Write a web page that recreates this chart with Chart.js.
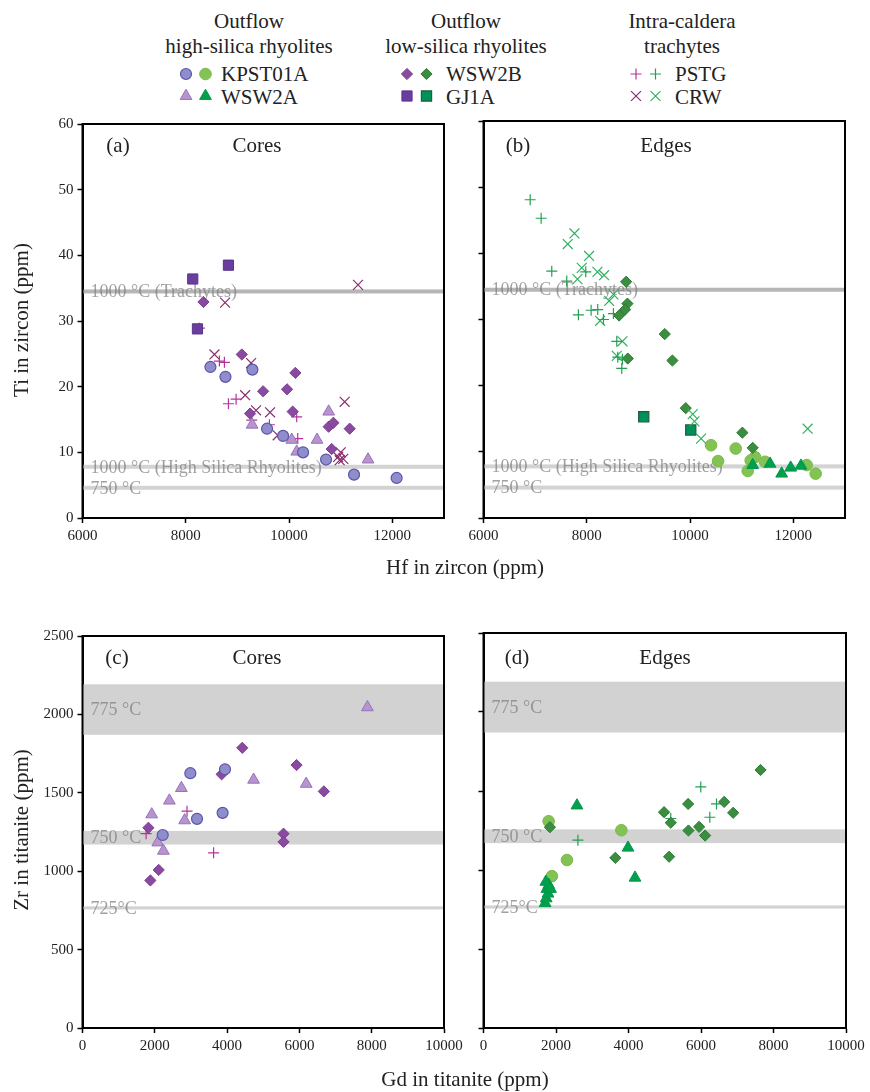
<!DOCTYPE html>
<html>
<head>
<meta charset="utf-8">
<script src="https://cdn.jsdelivr.net/npm/chart.js@4.4.0/dist/chart.umd.min.js"></script>
<style>
  body { margin: 0; width: 870px; height: 1092px; background: #fff; position: relative; overflow: hidden;
         font-family: "Liberation Serif", "Times New Roman", serif; color: #222; }
  canvas { position: absolute; }
  .t { position: absolute; white-space: nowrap; transform: translate(-50%, -50%); line-height: 1; }
  .l { position: absolute; white-space: nowrap; transform: translateY(-50%); line-height: 1; font-size: 21px; }
</style>
</head>
<body>

<div class="t" style="left:249px;top:21px;font-size:21px">Outflow</div>
<div class="t" style="left:249px;top:46px;font-size:21px">high-silica rhyolites</div>
<div class="t" style="left:466px;top:21px;font-size:21px">Outflow</div>
<div class="t" style="left:466px;top:46px;font-size:21px">low-silica rhyolites</div>
<div class="t" style="left:682px;top:21px;font-size:21px">Intra-caldera</div>
<div class="t" style="left:682px;top:46px;font-size:21px">trachytes</div>
<div class="l" style="left:221px;top:74px">KPST01A</div>
<div class="l" style="left:221px;top:97px">WSW2A</div>
<div class="l" style="left:446px;top:74px">WSW2B</div>
<div class="l" style="left:446px;top:97px">GJ1A</div>
<div class="l" style="left:675px;top:74px">PSTG</div>
<div class="l" style="left:675px;top:97px">CRW</div>

<canvas id="legend" width="870" height="110" style="left:0;top:0"></canvas>
<canvas id="zirconCores" width="455" height="445" style="left:0;top:111px"></canvas>
<canvas id="zirconEdges" width="400" height="445" style="left:455px;top:111px"></canvas>
<canvas id="titaniteCores" width="475" height="445" style="left:0;top:623px"></canvas>
<canvas id="titaniteEdges" width="415" height="445" style="left:455px;top:623px"></canvas>

<div class="t" style="left:118px;top:145px;font-size:21px">(a)</div>
<div class="t" style="left:257px;top:145px;font-size:21px">Cores</div>
<div class="t" style="left:518px;top:145px;font-size:21px">(b)</div>
<div class="t" style="left:666px;top:145px;font-size:21px">Edges</div>
<div class="t" style="left:117px;top:657px;font-size:21px">(c)</div>
<div class="t" style="left:257px;top:657px;font-size:21px">Cores</div>
<div class="t" style="left:517px;top:657px;font-size:21px">(d)</div>
<div class="t" style="left:665px;top:657px;font-size:21px">Edges</div>

<div class="t" style="left:21px;top:320px;font-size:21px;transform:translate(-50%,-50%) rotate(-90deg)">Ti in zircon (ppm)</div>
<div class="t" style="left:21px;top:830px;font-size:21px;transform:translate(-50%,-50%) rotate(-90deg)">Zr in titanite (ppm)</div>
<div class="t" style="left:465px;top:567px;font-size:21px">Hf in zircon (ppm)</div>
<div class="t" style="left:465px;top:1079px;font-size:21px">Gd in titanite (ppm)</div>

<script>
// tick values
const HF_TICKS = [6000, 8000, 10000, 12000];
const TI_TICKS = [0, 10, 20, 30, 40, 50, 60];
const GD_TICKS = [0, 2000, 4000, 6000, 8000, 10000];
const ZR_TICKS = [0, 500, 1000, 1500, 2000, 2500];

// Ti-in-zircon reference temperatures
const TI_REF_VALUES = [34.5, 7.8, 4.6];
const TI_REF_LABELS = ['1000 °C (Trachytes)', '1000 °C (High Silica Rhyolites)', '750 °C'];

// Zr-in-titanite reference bands (low, high)
const ZR_BAND_LOW = [1870, 1170, 756];
const ZR_BAND_HIGH = [2192, 1257, 776];
const ZR_BAND_LABELS = ['775 °C', '750 °C', '725°C'];

// zircon cores: [Hf, Ti]
const zcKPST01A = [[8477, 23.0], [8768, 21.5], [9290, 22.6], [9574, 13.6], [9884, 12.5], [10271, 10.0], [10716, 8.9], [11258, 6.6], [12083, 6.1]];
const zcWSW2A = [[9284, 14.2], [10052, 11.9], [10148, 10.1], [10542, 11.9], [10767, 16.2], [11529, 8.9]];
const zcWSW2B = [[8342, 32.9], [9084, 24.9], [10122, 22.1], [9497, 19.3], [9961, 19.6], [9245, 15.9], [10070, 16.2], [10767, 13.9], [10858, 14.5], [11174, 13.6], [10825, 10.5]];
const zcGJ1A = [[8135, 36.4], [8826, 38.5], [8226, 28.8]];
const zcPSTG = [[8264, 28.9], [8651, 23.9], [8748, 23.7], [8826, 17.4], [8974, 18.1], [9277, 14.9], [9619, 14.2], [10148, 15.4], [10168, 12.1]];
const zcCRW = [[11335, 35.5], [8761, 32.8], [8555, 24.9], [9265, 23.6], [9149, 18.7], [9361, 16.4], [9632, 16.1], [9780, 12.6], [11077, 17.7], [10950, 9.3], [11000, 10.0], [11050, 9.0], [10980, 8.8]];

// zircon edges: [Hf, Ti]
const zeKPST01A = [[10406, 11.0], [10884, 10.5], [10542, 8.6], [11258, 9.2], [11174, 8.7], [11116, 7.1], [11452, 8.5], [12258, 8.0], [12432, 6.7]];
const zeWSW2A = [[11549, 8.2], [11774, 6.7], [11948, 7.6], [12148, 7.9], [11213, 8.0]];
const zeWSW2B = [[8762, 35.7], [8787, 32.4], [8742, 31.5], [8626, 30.6], [8794, 24.1], [9510, 27.8], [9658, 23.8], [9916, 16.6], [11013, 12.9], [11213, 10.6]];
const zeGJ1A = [[9103, 15.3], [10013, 13.3]];
const zePSTG = [[6904, 48.1], [7116, 45.3], [7322, 37.3], [7612, 35.8], [7980, 37.2], [7838, 30.7], [8084, 31.4], [8212, 31.5], [8323, 30.0], [8516, 30.9], [8581, 26.7], [8600, 24.3], [8690, 24.0], [8677, 22.6]];
const zeCRW = [[7761, 43.0], [7632, 41.4], [8045, 39.6], [7903, 37.8], [8206, 37.2], [8335, 36.7], [7819, 36.1], [8516, 33.8], [8433, 32.8], [8258, 29.8], [8690, 26.7], [8581, 24.5], [10052, 15.7], [10085, 14.6], [10213, 12.0], [12277, 13.5]];

// titanite cores: [Gd, Zr]
const tcKPST01A = [[2983, 1625], [3942, 1650], [3168, 1334], [3876, 1372], [2219, 1231]];
const tcWSW2A = [[7882, 2045], [1915, 1362], [2403, 1450], [2735, 1530], [2826, 1324], [2081, 1183], [2238, 1130], [4733, 1583], [6188, 1557]];
const tcWSW2B = [[4420, 1787], [3849, 1618], [5921, 1677], [6676, 1509], [1823, 1277], [5561, 1239], [5561, 1187], [2108, 1008], [1878, 941]];
const tcPSTG = [[2892, 1383], [1759, 1239], [3627, 1117]];

// titanite edges: [Gd, Zr]
const teKPST01A = [[1796, 1309], [3804, 1252], [2302, 1063], [1887, 961]];
const teWSW2A = [[2578, 1408], [3987, 1141], [4180, 951], [1700, 790], [1730, 820], [1780, 850], [1750, 880], [1800, 905], [1720, 925], [1850, 880]];
const teWSW2B = [[7643, 1633], [5645, 1418], [4981, 1366], [5166, 1299], [6639, 1431], [6887, 1362], [5654, 1250], [5948, 1273], [6114, 1218], [3637, 1077], [5120, 1084], [1832, 1271]];
const tePSTG = [[5994, 1526], [6428, 1418], [6243, 1334], [5166, 1326], [2605, 1189]];

const FONT = '"Liberation Serif", "Times New Roman", serif';
Chart.defaults.font.family = FONT;

const MARKS = {
  core: {
    KPST01A: { pointStyle: 'circle', radius: 5.5, bg: '#8f8dcc', border: '#5b55a8', bw: 1.2 },
    WSW2A: { pointStyle: 'triangle', radius: 6.8, bg: '#b794cf', border: '#9673b6', bw: 1 },
    WSW2B: { pointStyle: 'rectRot', radius: 5.6, bg: '#8a4a9f', border: '#7b3c92', bw: 1 },
    GJ1A: { pointStyle: 'rect', radius: 7.2, bg: '#6a3e9c', border: '#5a3290', bw: 1 },
    PSTG: { pointStyle: 'cross', radius: 5.5, bg: '#b5339b', border: '#b5339b', bw: 1.2 },
    CRW: { pointStyle: 'crossRot', radius: 7, bg: '#8a2e6e', border: '#8a2e6e', bw: 1.2 },
  },
  edge: {
    KPST01A: { pointStyle: 'circle', radius: 5.8, bg: '#82c353', border: '#7aba4c', bw: 1 },
    WSW2A: { pointStyle: 'triangle', radius: 6.8, bg: '#00a04e', border: '#009848', bw: 1 },
    WSW2B: { pointStyle: 'rectRot', radius: 5.6, bg: '#3b8e3f', border: '#2b7a33', bw: 1 },
    GJ1A: { pointStyle: 'rect', radius: 7.2, bg: '#00915a', border: '#1f5e3d', bw: 1.2 },
    PSTG: { pointStyle: 'cross', radius: 5.5, bg: '#22a050', border: '#22a050', bw: 1.2 },
    CRW: { pointStyle: 'crossRot', radius: 7, bg: '#2fb260', border: '#2fb260', bw: 1.2 },
  },
};

// horizontal reference lines / bands and the box around the plot
const refPlugin = {
  id: 'refs',
  beforeDatasetsDraw(chart, args, opts) {
    const { ctx, chartArea: a } = chart;
    const y = chart.scales.y;
    ctx.save();
    (opts.bands || []).forEach(b => {
      const top = y.getPixelForValue(b.high);
      const bot = y.getPixelForValue(b.low);
      ctx.fillStyle = b.color;
      ctx.fillRect(a.left, top, a.right - a.left, bot - top);
    });
    (opts.lines || []).forEach(l => {
      const py = y.getPixelForValue(l.value);
      ctx.fillStyle = l.color;
      ctx.fillRect(a.left, py - 2, a.right - a.left, 4);
    });
    ctx.font = '18px ' + FONT;
    ctx.fillStyle = 'rgba(125,125,125,0.72)';
    ctx.textBaseline = 'middle';
    (opts.labels || []).forEach(t => {
      ctx.fillText(t.text, a.left + 8, y.getPixelForValue(t.value) + 1);
    });
    ctx.restore();
  },
  afterDraw(chart) {
    const { ctx, chartArea: a } = chart;
    ctx.save();
    ctx.strokeStyle = '#000';
    ctx.lineWidth = 2;
    ctx.strokeRect(a.left, a.top, a.right - a.left, a.bottom - a.top);
    ctx.restore();
  },
};

function dataset(kind, name, pairs) {
  const m = MARKS[kind][name];
  return {
    label: name,
    data: pairs.map(([x, y]) => ({ x, y })),
    pointStyle: m.pointStyle,
    pointRadius: m.radius,
    pointBackgroundColor: m.bg,
    pointBorderColor: m.border,
    pointBorderWidth: m.bw,
  };
}

function axis(min, max, ticks, showLabels, fit) {
  return {
    type: 'linear', min, max,
    afterBuildTicks: s => { s.ticks = ticks.map(v => ({ value: v })); },
    afterFit: fit,
    grid: { drawOnChartArea: false, drawTicks: true, tickLength: 5, tickColor: '#000', tickWidth: 1.5 },
    border: { display: true, color: '#000', width: 2 },
    ticks: {
      display: showLabels, autoSkip: false, maxRotation: 0, padding: 4, color: '#222',
      font: { family: FONT, size: 15 },
      callback: v => String(v),
    },
  };
}

function makePanel(id, kind, sets, xr, yr, refs, yLabels, yWidth, xHeight, padRight) {
  new Chart(document.getElementById(id), {
    type: 'scatter',
    data: { datasets: sets.map(([name, pairs]) => dataset(kind, name, pairs)) },
    options: {
      responsive: false,
      animation: false,
      events: [],
      layout: { padding: { left: 0, top: 10, right: padRight, bottom: 0 } },
      plugins: { legend: { display: false }, tooltip: { enabled: false }, refs },
      scales: {
        x: axis(xr[0], xr[1], xr[2], true, s => { s.height = xHeight; }),
        y: axis(yr[0], yr[1], yr[2], yLabels, s => { s.width = yWidth; }),
      },
    },
    plugins: [refPlugin],
  });
}

const zirconRefs = {
  lines: TI_REF_VALUES.map((v, i) => ({ value: v, color: i === 0 ? '#b6b6b6' : '#d3d3d3' })),
  labels: TI_REF_VALUES.map((v, i) => ({ value: v, text: TI_REF_LABELS[i] })),
};
const titaniteRefs = {
  bands: ZR_BAND_LOW.map((lo, i) => ({ low: lo, high: ZR_BAND_HIGH[i], color: '#d2d2d2' })),
  labels: ZR_BAND_LOW.map((lo, i) => ({ value: (lo + ZR_BAND_HIGH[i]) / 2, text: ZR_BAND_LABELS[i] })),
};

const hfRange = [6000, 13000, HF_TICKS];
const tiRange = [0, 60, TI_TICKS];
const gdRange = [0, 10000, GD_TICKS];
const zrRange = [0, 2500, ZR_TICKS];

makePanel('zirconCores', 'core',
  [['KPST01A', zcKPST01A], ['WSW2A', zcWSW2A], ['WSW2B', zcWSW2B], ['GJ1A', zcGJ1A], ['PSTG', zcPSTG], ['CRW', zcCRW]],
  hfRange, tiRange, zirconRefs, true, 82.5, 38, 11);
makePanel('zirconEdges', 'edge',
  [['PSTG', zePSTG], ['CRW', zeCRW], ['WSW2B', zeWSW2B], ['GJ1A', zeGJ1A], ['WSW2A', zeWSW2A], ['KPST01A', zeKPST01A]],
  hfRange, tiRange, zirconRefs, false, 28.5, 38, 10);
makePanel('titaniteCores', 'core',
  [['KPST01A', tcKPST01A], ['WSW2A', tcWSW2A], ['WSW2B', tcWSW2B], ['PSTG', tcPSTG]],
  gdRange, zrRange, titaniteRefs, true, 82.5, 40, 31);
makePanel('titaniteEdges', 'edge',
  [['WSW2A', teWSW2A], ['WSW2B', teWSW2B], ['KPST01A', teKPST01A], ['PSTG', tePSTG]],
  gdRange, zrRange, titaniteRefs, false, 28.5, 40, 24);

// legend symbols, cores colour then edges colour
const legendRows = [
  ['KPST01A', 186, 74], ['WSW2A', 186, 96],
  ['WSW2B', 407, 74], ['GJ1A', 407, 96],
  ['PSTG', 636, 74], ['CRW', 636, 96],
];
const lctx = document.getElementById('legend').getContext('2d');
legendRows.forEach(([name, x, y]) => {
  ['core', 'edge'].forEach((kind, j) => {
    const m = MARKS[kind][name];
    lctx.fillStyle = m.bg;
    lctx.strokeStyle = m.border;
    lctx.lineWidth = m.bw;
    Chart.helpers.drawPoint(lctx, { pointStyle: m.pointStyle, radius: m.radius, borderWidth: m.bw, rotation: 0 }, x + j * 19.5, y);
  });
});
</script>
</body>
</html>
